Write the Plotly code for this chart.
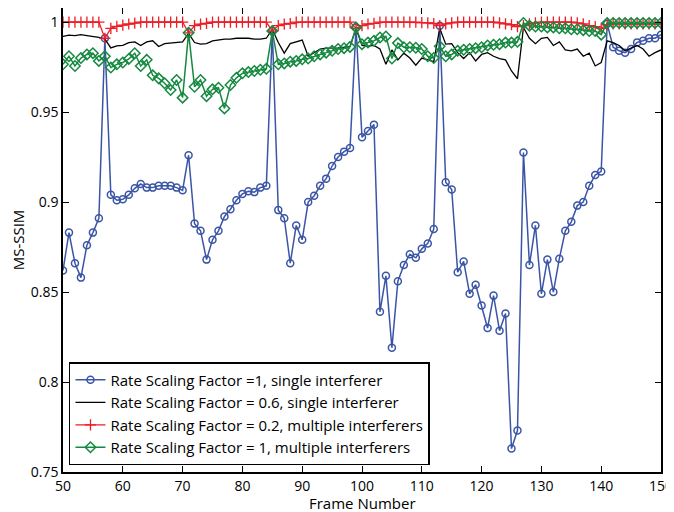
import plotly.graph_objects as go

# frame numbers 50..150
frames = list(range(50, 151))

# rate scaling factor 1, single interferer
ssim_r1_single = [
    0.862, 0.883, 0.866, 0.858, 0.876, 0.883, 0.891, 0.991, 0.904, 0.901,
    0.9015, 0.904, 0.9076, 0.910, 0.908, 0.908, 0.909, 0.909, 0.909, 0.908,
    0.9065, 0.926, 0.888, 0.884, 0.868, 0.879, 0.884, 0.892, 0.896, 0.901,
    0.9045, 0.906, 0.9055, 0.908, 0.909, 0.995, 0.8955, 0.891, 0.866, 0.887,
    0.879, 0.900, 0.9035, 0.909, 0.913, 0.920, 0.925, 0.928, 0.930, 0.997,
    0.936, 0.9395, 0.943, 0.839, 0.859, 0.819, 0.856, 0.865, 0.871, 0.869,
    0.874, 0.877, 0.885, 0.998, 0.911, 0.907, 0.861, 0.867, 0.849, 0.854,
    0.8425, 0.830, 0.848, 0.8285, 0.838, 0.763, 0.773, 0.9275, 0.865, 0.887,
    0.849, 0.868, 0.850, 0.8685, 0.884, 0.889, 0.898, 0.900, 0.909, 0.915,
    0.917, 0.999, 0.986, 0.984, 0.983, 0.985, 0.9887, 0.9896, 0.991, 0.991,
    0.993,
]

# rate scaling factor 0.6, single interferer
ssim_r06_single = [
    0.992, 0.9927, 0.9925, 0.993, 0.9925, 0.992, 0.9915, 0.9905, 0.9856, 0.9868,
    0.987, 0.9886, 0.989, 0.987, 0.989, 0.9896, 0.9864, 0.988, 0.9883, 0.9887,
    0.989, 0.9937, 0.9886, 0.9877, 0.988, 0.9895, 0.990, 0.9905, 0.9905, 0.991,
    0.991, 0.991, 0.9905, 0.9905, 0.991, 0.996, 0.9886, 0.9827, 0.988, 0.989,
    0.990, 0.981, 0.983, 0.985, 0.9855, 0.9855, 0.9857, 0.986, 0.9865, 0.9965,
    0.987, 0.9866, 0.987, 0.985, 0.9765, 0.9845, 0.979, 0.9827, 0.980, 0.976,
    0.980, 0.979, 0.978, 0.9966, 0.9877, 0.988, 0.983, 0.9797, 0.983, 0.9784,
    0.982, 0.983, 0.981, 0.9797, 0.979, 0.9728, 0.9685, 0.997, 0.991, 0.988,
    0.991, 0.9915, 0.987, 0.989, 0.9845, 0.984, 0.985, 0.981, 0.9827, 0.9756,
    0.9775, 0.9896, 0.9886, 0.987, 0.984, 0.9855, 0.987, 0.985, 0.981, 0.983,
    0.9845,
]

# rate scaling factor 0.2, multiple interferers
ssim_r02_multi = [
    1.0, 1.0, 1.0, 1.0, 1.0, 1.0, 1.0, 0.991, 0.9965, 0.9976,
    0.9983, 0.9989, 0.9994, 1.0, 1.0, 1.0, 1.0, 1.0, 1.0, 1.0,
    1.0, 0.994, 0.998, 0.9988, 0.9993, 1.0, 1.0, 1.0, 1.0, 1.0,
    1.0, 1.0, 1.0, 1.0, 1.0, 0.995, 0.998, 0.9988, 0.9992, 1.0,
    1.0, 1.0, 1.0, 1.0, 1.0, 1.0, 1.0, 1.0, 1.0, 0.9965,
    0.998, 0.9989, 0.9993, 1.0, 1.0, 1.0, 1.0, 1.0, 1.0, 1.0,
    0.9997, 0.9995, 0.9992, 0.998, 0.999, 0.9995, 1.0, 1.0, 1.0, 1.0,
    1.0, 1.0, 1.0, 0.9995, 0.999, 0.9985, 0.9975, 0.998, 0.999, 0.9995,
    1.0, 1.0, 1.0, 1.0, 1.0, 1.0, 0.9995, 0.999, 0.998, 0.9975,
    0.9965, 0.9985, 0.999, 0.999, 0.999, 0.999, 0.999, 0.999, 0.999, 0.999,
    0.999,
]

# rate scaling factor 1, multiple interferers
ssim_r1_multi = [
    0.9765, 0.981, 0.9756, 0.980, 0.982, 0.9827, 0.9784, 0.981, 0.9747, 0.9765,
    0.9775, 0.9795, 0.9827, 0.9756, 0.979, 0.9704, 0.9687, 0.966, 0.9622, 0.9678,
    0.958, 0.994, 0.964, 0.9678, 0.9588, 0.9626, 0.9635, 0.952, 0.965, 0.969,
    0.9715, 0.9722, 0.9728, 0.9735, 0.974, 0.995, 0.9765, 0.977, 0.978, 0.9784,
    0.9793, 0.9797, 0.981, 0.982, 0.983, 0.984, 0.985, 0.9855, 0.9862, 0.997,
    0.9877, 0.9886, 0.9896, 0.9914, 0.992, 0.9797, 0.9883, 0.986, 0.986, 0.9857,
    0.985, 0.981, 0.980, 0.9865, 0.981, 0.982, 0.984, 0.9846, 0.985, 0.9855,
    0.986, 0.987, 0.9874, 0.9877, 0.9886, 0.9886, 0.989, 0.9995, 0.998, 0.9975,
    0.9975, 0.997, 0.997, 0.9965, 0.9965, 0.996, 0.996, 0.9955, 0.995, 0.995,
    0.993, 0.9995, 0.9995, 0.9995, 0.9995, 0.9995, 0.9995, 0.9995, 0.9995, 0.9995,
    0.9995,
]

xticks = [50, 60, 70, 80, 90, 100, 110, 120, 130, 140, 150]
yticks = [0.75, 0.8, 0.85, 0.9, 0.95, 1]
ytick_labels = ["0.75", "0.8", "0.85", "0.9", "0.95", "1"]

blue = "#3a55a6"
red = "#ee1c25"
green = "#15893f"

fig = go.Figure()

fig.add_trace(go.Scatter(
    x=frames, y=ssim_r1_single, mode="lines+markers",
    name="Rate Scaling Factor =1, single interferer",
    line=dict(color=blue, width=1.5),
    marker=dict(symbol="circle-open", size=7, color=blue, line=dict(width=1.5)),
))
fig.add_trace(go.Scatter(
    x=frames, y=ssim_r06_single, mode="lines",
    name="Rate Scaling Factor = 0.6, single interferer",
    line=dict(color="black", width=1.3),
))
fig.add_trace(go.Scatter(
    x=frames, y=ssim_r02_multi, mode="lines+markers",
    name="Rate Scaling Factor = 0.2, multiple interferers",
    line=dict(color=red, width=1.3),
    marker=dict(symbol="cross-thin", size=8, color=red, line=dict(width=1.3, color=red)),
))
fig.add_trace(go.Scatter(
    x=frames, y=ssim_r1_multi, mode="lines+markers",
    name="Rate Scaling Factor = 1, multiple interferers",
    line=dict(color=green, width=1.5),
    marker=dict(symbol="diamond-open", size=8, color=green, line=dict(width=1.5)),
))

axis_style = dict(
    showgrid=False, zeroline=False, showline=True, linecolor="black", linewidth=1.5,
    mirror="ticks", ticks="inside", ticklen=6, tickcolor="black",
    tickfont=dict(size=14, color="black"),
)

# page body has an 8px margin, so the figure is sized to fill the rest of the window
fig.update_layout(
    width=666, height=504,
    margin=dict(l=52, r=13, t=0, b=40),
    paper_bgcolor="white", plot_bgcolor="white",
    font=dict(family="Open Sans, sans-serif", color="black"),
    showlegend=True,
    legend=dict(
        x=0.01, y=0.015, xanchor="left", yanchor="bottom",
        bgcolor="white", bordercolor="black", borderwidth=1.5,
        font=dict(size=15), tracegroupgap=0, itemwidth=30,
    ),
    xaxis=dict(range=[50, 150], tickvals=xticks, automargin=False, **axis_style),
    yaxis=dict(range=[0.75, 1.0078], tickvals=yticks, ticktext=ytick_labels,
               title=dict(text="MS-SSIM", font=dict(size=15), standoff=12),
               **axis_style),
)

# x title placed as an annotation so it sits tight under the tick labels
fig.add_annotation(
    text="Frame Number", xref="paper", yref="paper", x=0.5, y=-0.067,
    xanchor="center", yanchor="middle", showarrow=False, font=dict(size=15),
)

fig.write_html("out.html")
